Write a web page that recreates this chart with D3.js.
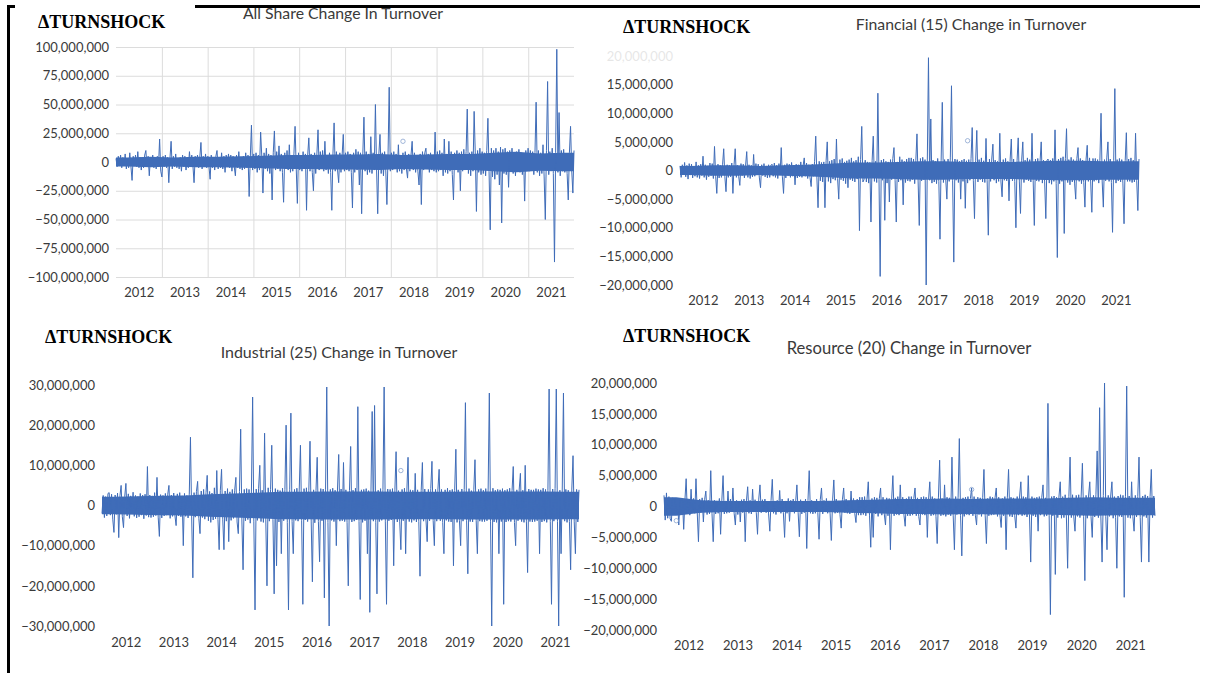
<!DOCTYPE html>
<html>
<head>
<meta charset="utf-8">
<script src="https://cdn.jsdelivr.net/npm/d3@7"></script>
<style>
  body { margin: 0; background: #fff; }
  svg { display: block; }
</style>
</head>
<body>
<div id="chart"></div>
<script>
// Data ----------------------------------------------
// values in millions, one row per year (2012 ... 2021), 40 readings per row
const yearLabels = ['2012', '2013', '2014', '2015', '2016', '2017', '2018', '2019', '2020', '2021'];

const allShare = [
  [3,-4,5,-2,6,-5,4,-3,7,-6,3,-5,8,-4,-16,5,-3,6,-4,9,-5,4,-7,3,-5,6,10,-4,5,-12,4,-3,6,-5,3,-6,5,-4,20,-8],
  [-13,5,-4,6,-5,4,-18,3,18,-6,5,-4,7,-5,3,-6,4,-8,6,-4,5,-7,3,-5,9,-4,6,-3,-18,5,-4,6,-5,4,17,-6,5,-4,7,-5],
  [5,-4,-15,6,-5,4,-7,5,10,-6,4,-5,8,-6,5,-9,6,-4,7,-5,6,-8,5,-4,-12,6,-5,9,-6,4,-7,5,-6,8,-5,6,-30,4,32,-7],
  [7,-6,8,-9,6,-7,26,5,-27,8,-6,12,-8,7,-10,6,-33,8,27,-7,9,-6,14,-8,7,-9,-35,8,-6,10,-7,15,-9,6,-8,7,31,-5,-36,8],
  [-7,6,-8,9,-6,7,-42,6,21,-8,7,-9,-25,8,-10,7,28,-7,9,-6,10,-8,18,-7,6,-10,8,-9,-42,7,34,-8,9,-7,-18,8,-9,6,24,-8],
  [8,-7,9,-8,7,-9,-40,8,-9,11,-7,9,-20,8,-45,6,39,-8,9,-11,7,-9,22,-10,8,-7,50,-6,-45,7,24,-10,8,-12,9,-7,-37,6,65,-8],
  [8,-7,9,-6,7,-9,15,-8,6,-10,8,-7,9,-6,-14,7,-8,6,18,-7,8,-9,6,-8,-20,7,-37,9,-7,8,12,-6,7,-9,8,-7,6,-8,26,-9],
  [9,-8,10,-7,8,-12,20,-9,7,-10,18,-8,9,-11,-33,8,-7,10,-9,8,-25,9,-8,11,-7,9,46,-10,8,-12,9,-8,44,7,-43,10,-9,12,-11,9],
  [-10,8,-12,10,38,-8,-59,12,-13,10,-15,12,-11,9,-20,13,-53,11,-10,12,-11,9,-22,10,-8,12,-10,8,-12,9,-7,11,-9,8,-11,7,-34,10,-8,12],
  [-8,10,-7,9,-11,8,52,-9,10,-12,8,-10,15,-13,-50,10,70,-11,9,-8,12,-10,-87,8,98,-9,43,-12,10,-8,11,-9,7,-10,-33,8,31,-7,-27,10]
];

const financial = [
  [0.8,-1.2,1.0,-0.7,1.4,-1.1,0.9,-1.5,1.2,-0.8,1.1,-1.3,0.7,-1.0,1.5,-1.2,0.9,-1.4,1.1,-0.9,2.5,-1.2,1.0,-1.6,0.8,-1.1,1.3,-0.9,1.2,-1.4,4.2,-1.0,-4,1.1,-1.3,0.9,-1.2,1.0,3.8,-1.1],
  [-3.7,1.0,-1.2,0.9,-1.1,1.3,-4,1.0,3.8,-1.2,0.9,-1.0,-2.6,1.2,-0.9,1.1,-1.3,0.8,3.3,-1.2,1.0,-1.4,0.9,-1.1,2.8,-1.0,1.2,-0.8,1.1,-1.3,-3,1.0,-0.9,1.2,-1.1,0.8,-1.3,1.0,-1.2,0.9],
  [1.1,-1.0,1.3,-1.2,0.9,-1.4,1.2,-0.8,4,-1.1,-4,1.0,-1.3,1.2,-0.9,1.1,-1.2,1.4,-1.0,0.9,-2.5,1.1,-1.3,1.0,-1.1,1.5,-1.2,0.8,2.2,-1.0,1.3,-1.4,1.0,-1.2,-2.8,1.1,-1.0,1.6,6,-1.3],
  [-6.5,1.6,-1.8,1.4,-2.0,1.5,-6.5,1.7,5,-1.9,1.6,-2.2,1.8,-1.5,2.0,-1.7,5.5,-1.4,-5,1.9,-1.6,2.1,-1.8,1.5,-2.3,1.7,-3,1.9,-1.6,2.2,-1.8,1.6,-2.0,1.8,-1.5,2.4,-10.5,1.9,7.7,-2.0],
  [-1.6,1.8,-2.0,1.5,-2.2,1.4,-9,1.7,6,-1.9,1.6,-2.1,13.5,-1.5,-18.5,1.8,-1.7,2.0,-8.7,1.6,-2.2,1.5,-5.5,1.9,-1.6,2.1,4,-1.8,-9,1.5,-2.0,2.4,-1.7,1.9,-6,1.6,-2.1,2.0,-1.8,2.2],
  [-1.9,2.2,-1.6,2.0,-2.3,1.7,6.4,-2.0,-9.6,2.1,-1.8,2.3,-1.6,1.9,-20,2.0,19.7,-1.7,9,-2.2,1.8,-2.0,1.6,-2.3,2.1,-1.9,-12,1.7,11.9,-2.1,1.9,-1.6,-5,2.0,-1.9,2.2,14.8,-1.8,-16,2.0],
  [-1.7,1.9,-2.1,1.6,-5,1.8,-1.9,2.0,-6.6,1.7,-2.2,1.9,-1.7,2.1,7.5,-1.8,-8.4,1.7,7,-2.0,1.9,-1.6,2.2,-2.0,1.7,-2.1,5.6,-1.8,-11.3,2.0,-1.9,2.0,4.6,-1.7,1.8,-2.2,1.6,-1.9,6.5,-2.0],
  [-4.6,1.9,-1.7,2.1,-1.8,1.6,-5.3,2.0,5.5,-1.8,2.0,-1.9,-10,1.7,5.7,-2.0,-7.5,1.8,5,-2.1,1.8,-1.6,2.2,-1.8,1.9,-2.0,6.5,-1.7,-9.6,2.0,-1.8,2.1,-1.9,1.6,5,-2.2,1.8,-2.0,-8.4,1.8],
  [2.0,-2.2,1.8,-2.4,2.1,-1.9,7.1,-2.3,-15.2,2.0,-2.3,2.2,-1.9,2.4,-11,2.1,7.3,-2.1,1.9,-2.5,2.3,-2.0,1.9,-2.2,-5,2.1,4,-1.9,2.1,-2.3,1.8,-2.1,-6.4,2.0,4.4,-1.9,2.2,-2.0,-7.3,2.1],
  [-1.9,2.1,-1.7,1.9,-2.2,1.8,10,-2.0,-6.4,1.9,-1.8,2.2,5,-1.9,2.0,-2.1,-10.8,1.7,14.3,-2.2,1.9,-1.8,2.1,-2.0,1.9,-2.2,-9.3,1.7,6.6,-1.9,2.0,-1.9,2.2,-2.1,1.8,-2.0,6.5,-1.7,-7,2.0]
];

const industrial = [
  [-2.0,2.5,-3.0,2.2,-2.6,3.0,3.2,-2.4,2.8,-3.4,-6.7,2.6,-2.2,3.1,-8,2.4,5,-2.8,-5.5,2.2,5.5,-2.6,2.9,-3.2,2.4,-2.0,3.3,-2.7,2.5,-3.1,2.2,-2.8,3.0,-2.4,2.6,-3.3,2.8,-2.5,9.7,-2.9],
  [2.6,-3.0,2.4,-2.8,3.2,-2.5,7,-2.9,-7.7,2.7,-3.1,2.5,-2.6,3.0,-2.4,2.8,5,-3.2,2.6,-2.7,3.1,-2.5,-5,2.9,-2.6,3.2,-2.8,2.4,-10,3.0,-2.7,2.5,-3.1,2.8,17,-2.6,-18,3.2,-2.9,3.5],
  [6,-3.2,-7,3.6,-3.0,4.0,-3.4,3.2,7.5,-3.8,3.5,-4.2,3.1,-3.6,4.4,-3.3,8.7,-3.5,-11,3.8,9,-3.4,-11,3.6,-3.9,4.2,-9,3.4,-3.7,4.0,-3.2,3.8,7,-4.1,-7,3.5,19,-3.6,-16,4.0],
  [-3.8,4.2,-3.5,4.0,-4.4,3.6,27,-3.9,-26,4.1,-3.7,4.3,10,-4.0,3.8,-4.2,18,-3.6,-20,4.4,-3.9,4.0,15,-3.5,-22,4.2,-15,3.9,-4.1,3.7,-12,4.3,-3.8,4.0,20,-4.2,-26,3.9,23,-4.0],
  [-12,4.0,-3.7,4.3,-3.9,4.1,15,-3.8,-24.6,4.2,-3.6,4.4,-4.0,3.8,16,-4.1,-19,3.9,-4.3,3.7,12,-4.0,-14,4.2,-3.8,4.1,-23,3.9,29.5,-4.2,-30,4.0,-3.7,4.3,-4.0,3.8,-10,4.1,12.7,-3.9],
  [4.1,-3.8,10.7,-4.0,3.9,-4.2,-20,3.7,14.7,-4.1,3.8,-3.9,4.3,-3.6,24.6,-4.0,-23.4,3.9,-4.2,4.0,-3.8,4.2,-12,3.7,-26.6,4.1,23.4,-3.9,24.9,-4.3,-22,3.8,-4.0,4.2,-3.7,4.0,29.5,-3.9,-24.6,4.1],
  [-3.8,4.0,-3.6,4.2,-15,3.9,13.4,-4.1,3.7,-3.9,-11,4.0,-3.8,4.3,-12,3.6,12,-4.0,3.9,-4.2,3.8,-3.7,8,-4.1,3.9,-4.0,-17.6,3.8,10.7,-3.9,4.1,-3.6,-9,4.0,-3.8,4.2,11,-3.7,-10,4.0],
  [-3.9,4.1,9,-3.8,4.0,-4.2,-12,3.9,-3.7,4.3,-4.0,3.8,-4.1,4.0,-15,3.7,14,-4.2,3.9,-3.8,-10,4.1,-3.9,4.0,25.6,-3.8,-17,4.2,-4.0,3.7,-4.1,3.9,11.4,-3.8,-12,4.0,-3.9,4.2,-4.0,3.8],
  [-4.0,4.2,-3.8,4.1,28,-3.9,-30,4.3,-4.1,3.8,-4.2,4.0,-12,3.9,-4.0,4.2,-24.6,3.8,-4.1,4.0,-3.9,4.3,-4.0,3.7,9.7,-4.2,-10,3.9,-3.8,4.1,8,-4.0,3.8,-4.2,10,-3.9,-16.7,4.1,-4.0,3.9],
  [-4.1,3.9,-4.0,4.2,-3.8,4.0,-12,3.9,-4.1,4.3,-3.9,4.0,-4.2,3.8,29,-4.0,-24.6,4.1,-3.9,4.2,29,-4.0,-30,3.8,-12,4.1,28,-3.9,4.0,-4.2,3.8,-4.0,-16,4.1,12.4,-3.9,-12,4.0,-4.1,3.9]
];

const resource = [
  [1.8,-2.2,2.2,-1.9,1.6,-2.0,-2.4,1.4,-1.2,1.3,-1.0,1.2,-3,0.9,-1.3,1.1,-3.7,1.0,4.5,-1.2,1.1,-1.4,2.8,-1.0,1.3,-1.1,4.5,-0.9,-5.7,1.2,-1.0,1.4,-2.5,1.1,2.5,-1.3,1.0,-1.2,5.8,-1.1],
  [-5.7,1.0,-1.2,0.9,-1.1,1.3,-4.5,1.0,5,-1.2,0.9,-1.1,2.5,-1.0,1.2,-0.8,3,-1.1,-3,1.0,-1.3,0.9,-2.5,1.1,-1.0,1.2,-5.7,0.9,3.2,-1.1,1.0,-1.2,2.8,-0.9,1.1,-1.0,-4.5,1.2,3.5,-1.0],
  [1.1,-0.9,1.2,-1.0,0.8,-1.2,-4,1.0,4.4,-1.1,0.9,-1.3,1.0,-0.9,2.6,-1.1,1.2,-1.0,-5,0.9,-1.1,1.3,-2.4,1.0,-0.9,1.2,-1.1,0.8,3.5,-1.0,-4.9,1.1,-1.2,0.9,-1.0,1.2,-6.8,1.0,5.8,-1.1],
  [1.0,-1.2,0.9,-1.1,1.2,-1.0,-5.3,1.1,3,-1.2,1.0,-0.9,1.3,-1.1,0.9,-1.2,-5.5,1.0,4.3,-1.1,1.2,-1.0,0.9,-1.3,-3.5,1.1,3,-1.0,1.2,-1.1,0.9,-1.2,2.5,-1.0,1.3,-1.1,-2.6,1.2,-1.4,1.5],
  [-1.4,1.5,-1.3,1.6,-1.5,1.2,4,-1.4,-6.6,1.3,-5,1.5,-1.2,1.4,-1.6,1.3,3,-1.4,1.5,-1.2,-3,1.4,-1.5,1.3,-7,1.2,5,-1.5,1.4,-1.3,1.6,-1.4,3.5,-1.2,1.5,-1.4,-3.2,1.3,-1.5,1.6],
  [-1.5,1.6,-1.4,1.3,3,-1.5,1.4,-1.6,-3,1.5,-1.3,1.6,-1.4,1.5,-5,1.2,4,-1.5,1.6,-1.4,1.3,-1.6,-6,1.4,7.5,-1.5,1.3,-1.4,3.5,-1.6,1.5,-1.3,1.4,-1.5,8,-1.4,-7,1.6,-1.3,1.5],
  [11,-1.5,-8,1.4,-1.6,1.5,-1.3,1.6,-1.4,1.3,3,-1.5,1.6,-1.4,-3,1.5,-1.3,1.4,-1.6,1.5,6,-1.4,-6,1.3,-1.5,1.6,-1.4,1.5,-1.3,1.4,3,-1.6,1.5,-1.4,-3.4,1.3,-1.5,1.6,-7,1.4],
  [6,-1.6,1.5,-1.7,1.4,-1.5,-3.5,1.6,-1.4,1.7,4,-1.5,1.6,-1.4,1.5,-1.7,5,-1.3,-9,1.6,-1.5,1.4,-1.7,1.5,-4,1.6,-1.4,1.5,3.5,-1.6,1.4,-1.5,16.7,-1.4,-17.5,1.6,-1.5,1.7,-11,1.5],
  [-1.8,1.7,4,-1.9,1.6,-1.8,1.9,-1.7,-10,1.6,8,-1.8,1.9,-1.7,-4,1.8,-1.6,1.9,-1.8,1.7,7,-1.6,-12,1.8,-1.9,1.7,4,-1.6,-5,1.8,-1.7,1.9,9,-1.8,16,-1.7,-9,1.8,20,-1.6],
  [-7,1.8,-1.6,1.7,4,-1.9,1.6,-1.8,-10,1.7,-1.6,1.9,-1.7,1.8,-14.7,1.6,19.5,-1.8,1.7,-1.9,4,-1.6,-4,1.8,-1.7,1.6,8,-1.8,-9,1.7,-1.6,1.9,-1.8,1.7,-9,1.6,6,-1.8,1.7,-1.5]
];

// dense day-to-day core of each series: half-width per half-year (millions)
const allShareBand = [4, 4.5, 4, 4.5, 4.5, 5, 5.5, 6, 6, 6.5, 6.5, 7, 6, 6.5, 7, 7, 8, 9, 7.5, 8];
const financialBand = [0.8, 0.9, 0.9, 0.8, 0.9, 1.0, 1.2, 1.4, 1.4, 1.5, 1.6, 1.6, 1.5, 1.5, 1.5, 1.6, 1.7, 1.7, 1.6, 1.6];
const industrialBand = [2.2, 2.3, 2.4, 2.5, 2.8, 3.0, 3.2, 3.4, 3.4, 3.5, 3.5, 3.5, 3.4, 3.4, 3.4, 3.5, 3.5, 3.5, 3.5, 3.4];
const resourceBand = [1.5, 1.0, 0.9, 0.9, 0.9, 0.9, 0.9, 1.0, 1.1, 1.2, 1.2, 1.3, 1.2, 1.3, 1.3, 1.3, 1.4, 1.5, 1.4, 1.4];

// stray open markers: [reading index, value in millions]
const allShareMarks = [[250, 18]];
const financialMarks = [[250, 5.2]];
const industrialMarks = [[250, 8.7]];
const resourceMarks = [[10, -2.3], [250, 2.75]];

// tick values (millions)
const allShareTicks = [-100, -75, -50, -25, 0, 25, 50, 75, 100];
const financialTicks = [-20, -15, -10, -5, 0, 5, 10, 15, 20];
const industrialTicks = [-30, -20, -10, 0, 10, 20, 30];
const resourceTicks = [-20, -15, -10, -5, 0, 5, 10, 15, 20];

const titles = [
  'All Share Change In Turnover',
  'Financial (15) Change in Turnover',
  'Industrial (25) Change in Turnover',
  'Resource (20) Change in Turnover'
];

// Constants ----------------------------------------------
const width = 1208;
const height = 673;
const lineColor = '#3f6cb8';
const textColor = '#3a3a3a';
const gridColor = '#dcdcdc';
const labelFont = 'Lato, "Open Sans", sans-serif';

const panels = [
  {values: allShare, band: allShareBand, marks: allShareMarks, ticks: allShareTicks, title: titles[0],
   x0: 116, x1: 574, yTop: 47, yBot: 277, labelRight: 109, yearBase: 297,
   titleX: 343, titleY: 19, titleSize: 15.8, shockX: 38, shockY: 28, grid: true},
  {values: financial, band: financialBand, marks: financialMarks, ticks: financialTicks, title: titles[1],
   x0: 680, x1: 1139, yTop: 56, yBot: 285, labelRight: 673, yearBase: 305,
   titleX: 971, titleY: 30, titleSize: 15.8, shockX: 623, shockY: 33, fadeTop: true},
  {values: industrial, band: industrialBand, marks: industrialMarks, ticks: industrialTicks, title: titles[2],
   x0: 102, x1: 579, yTop: 385, yBot: 626, labelRight: 95, yearBase: 647,
   titleX: 339, titleY: 358, titleSize: 16, shockX: 45, shockY: 343},
  {values: resource, band: resourceBand, marks: resourceMarks, ticks: resourceTicks, title: titles[3],
   x0: 664, x1: 1155, yTop: 383, yBot: 630, labelRight: 657, yearBase: 650,
   titleX: 909, titleY: 354, titleSize: 16.6, shockX: 623, shockY: 342}
];

const fmt = d => d3.format(',')(Math.round(d * 1e6));

// Functions ----------------------------------------------
function drawPanel(svg, p) {
  const series = p.values.flat();
  const lo = d3.min(p.ticks), hi = d3.max(p.ticks);
  const firstYear = +yearLabels[0];

  const x = d3.scaleLinear().domain([0, series.length - 1]).range([p.x0, p.x1]);
  const t = d3.scaleTime()
    .domain([new Date(firstYear, 0, 1), new Date(+yearLabels[yearLabels.length - 1] + 1, 0, 1)])
    .range([p.x0, p.x1]);
  const y = d3.scaleLinear().domain([lo, hi]).range([p.yBot, p.yTop]);

  const g = svg.append('g');

  // gridlines (first panel only)
  if (p.grid) {
    g.append('g')
      .attr('transform', `translate(${p.x0},0)`)
      .call(d3.axisLeft(y).tickValues(p.ticks).tickSize(-(p.x1 - p.x0)).tickFormat(''))
      .call(a => a.select('.domain').remove())
      .call(a => a.selectAll('line').attr('stroke', gridColor));
    g.append('g')
      .attr('transform', `translate(0,${p.yBot})`)
      .call(d3.axisBottom(t)
        .tickValues(yearLabels.slice(1).map(d => new Date(+d, 0, 1)))
        .tickSize(-(p.yBot - p.yTop)).tickFormat(''))
      .call(a => a.select('.domain').remove())
      .call(a => a.selectAll('line').attr('stroke', gridColor));
  }

  // y labels
  g.append('g')
    .attr('transform', `translate(${p.labelRight},0)`)
    .call(d3.axisLeft(y).tickValues(p.ticks).tickSize(0).tickPadding(0).tickFormat(fmt))
    .call(a => a.select('.domain').remove())
    .call(a => a.selectAll('text')
      .attr('fill', textColor)
      .style('font-family', labelFont)
      .style('font-size', '13px')
      .attr('opacity', d => (p.fadeTop && d === hi) ? 0.12 : 1));

  // year labels at mid-year
  g.append('g')
    .attr('transform', `translate(0,${p.yearBase - 9.5})`)
    .call(d3.axisBottom(t)
      .tickValues(yearLabels.map(d => new Date(+d, 6, 1)))
      .tickSize(0).tickPadding(0).tickFormat(d3.timeFormat('%Y')))
    .call(a => a.select('.domain').remove())
    .call(a => a.selectAll('text')
      .attr('fill', textColor)
      .style('font-family', labelFont)
      .style('font-size', '13px'));

  // dense core band, one point per half-year, held flat to the plot edges
  const bandPts = p.band.map((a, j) => ({
    px: t(new Date(firstYear + Math.floor(j / 2), j % 2 ? 9 : 3, 1)), a
  }));
  bandPts.unshift({px: p.x0, a: p.band[0]});
  bandPts.push({px: p.x1, a: p.band[p.band.length - 1]});

  g.append('path')
    .datum(bandPts)
    .attr('fill', lineColor)
    .attr('d', d3.area().x(d => d.px).y0(d => y(-d.a)).y1(d => y(d.a)));

  // series line
  g.append('path')
    .datum(series)
    .attr('fill', 'none')
    .attr('stroke', lineColor)
    .attr('stroke-width', 1)
    .attr('d', d3.line().x((d, i) => x(i)).y(d => y(d)));

  g.selectAll('circle.mark')
    .data(p.marks)
    .enter()
    .append('circle')
    .attr('class', 'mark')
    .attr('cx', d => x(d[0]))
    .attr('cy', d => y(d[1]))
    .attr('r', 2.2)
    .attr('fill', 'none')
    .attr('stroke', '#8aa4cf')
    .attr('stroke-width', 0.8);

  // titles
  g.append('text')
    .attr('x', p.titleX)
    .attr('y', p.titleY)
    .attr('text-anchor', 'middle')
    .attr('fill', textColor)
    .style('font-family', labelFont)
    .style('font-size', p.titleSize + 'px')
    .text(p.title);

  g.append('text')
    .attr('x', p.shockX)
    .attr('y', p.shockY)
    .attr('fill', '#000')
    .style('font-family', '"Liberation Serif", "Times New Roman", serif')
    .style('font-weight', 'bold')
    .style('font-size', '18px')
    .text('\u0394TURNSHOCK');
}

// Initialize ----------------------------------------------
const svg = d3.select('#chart')
  .append('svg')
  .attr('width', width)
  .attr('height', height);

panels.forEach(p => drawPanel(svg, p));

// page frame: left bracket and top rule
svg.append('path')
  .attr('d', 'M15,6.5 H8.5 V673')
  .attr('fill', 'none')
  .attr('stroke', '#000')
  .attr('stroke-width', 3);
svg.append('line')
  .attr('x1', 195).attr('x2', 1200)
  .attr('y1', 6.5).attr('y2', 6.5)
  .attr('stroke', '#000')
  .attr('stroke-width', 3);
</script>
</body>
</html>
